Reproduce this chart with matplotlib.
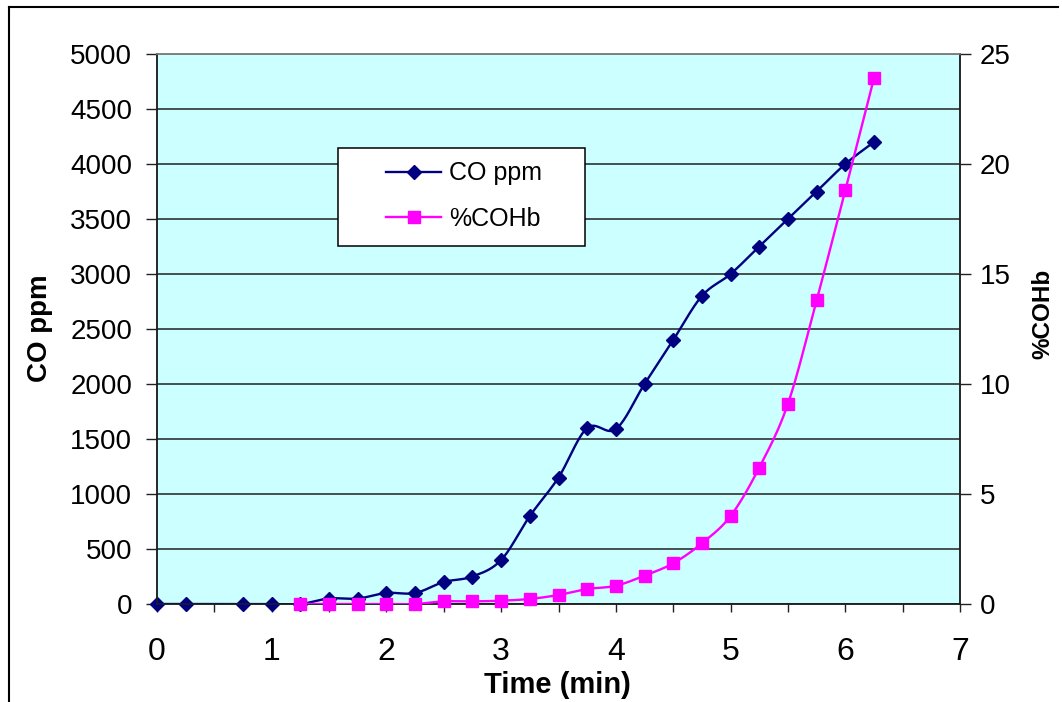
import numpy as np
import matplotlib
matplotlib.use("Agg")
import matplotlib.pyplot as plt
from matplotlib.lines import Line2D
from matplotlib.patches import Rectangle
from matplotlib.ticker import MultipleLocator

plt.rcParams['font.family'] = ['Liberation Sans', 'DejaVu Sans']

# ---- data ----
co_time = [0, 0.25, 0.75, 1.0, 1.25, 1.5, 1.75, 2.0, 2.25, 2.5, 2.75, 3.0, 3.25,
           3.5, 3.75, 4.0, 4.25, 4.5, 4.75, 5.0, 5.25, 5.5, 5.75, 6.0, 6.25]
co_ppm = [0, 0, 0, 0, 0, 50, 50, 100, 100, 200, 250, 400, 800,
          1150, 1600, 1590, 2000, 2400, 2800, 3000, 3250, 3500, 3750, 4000, 4200]

cohb_time = [1.25, 1.5, 1.75, 2.0, 2.25, 2.5, 2.75, 3.0, 3.25, 3.5, 3.75, 4.0,
             4.25, 4.5, 4.75, 5.0, 5.25, 5.5, 5.75, 6.0, 6.25]
cohb_pct = [0, 0, 0, 0, 0, 0.12, 0.12, 0.15, 0.23, 0.41, 0.68, 0.83,
            1.29, 1.85, 2.76, 4.0, 6.2, 9.1, 13.8, 18.8, 23.9]

x_ticks = [0, 1, 2, 3, 4, 5, 6, 7]
left_ticks = list(range(0, 5001, 500))
right_ticks = [0, 5, 10, 15, 20, 25]

NAVY = '#000080'
MAGENTA = '#FF00FF'
BG = '#CCFFFF'


def smooth(x, y, n=20):
    """Excel-like smoothed line (Bezier with Catmull-Rom control points)."""
    x = np.asarray(x, float)
    y = np.asarray(y, float)
    px = np.concatenate([[x[0]], x, [x[-1]]])
    py = np.concatenate([[y[0]], y, [y[-1]]])
    xs, ys = [], []
    t = np.linspace(0, 1, n)
    for i in range(1, len(px) - 2):
        p0 = np.array([px[i], py[i]])
        p3 = np.array([px[i + 1], py[i + 1]])
        p1 = p0 + (np.array([px[i + 1], py[i + 1]]) - np.array([px[i - 1], py[i - 1]])) / 6
        p2 = p3 - (np.array([px[i + 2], py[i + 2]]) - np.array([px[i], py[i]])) / 6
        b = ((1 - t) ** 3)[:, None] * p0 + (3 * (1 - t) ** 2 * t)[:, None] * p1 \
            + (3 * (1 - t) * t ** 2)[:, None] * p2 + (t ** 3)[:, None] * p3
        xs.extend(b[:, 0])
        ys.extend(b[:, 1])
    return np.array(xs), np.array(ys)


W, H = 1062, 702
fig = plt.figure(figsize=(W / 100, H / 100), dpi=100)
fig.patch.set_facecolor('white')

L, R, T, B = 157, 960, 54, 604
ax = fig.add_axes([L / W, 1 - B / H, (R - L) / W, (B - T) / H])
ax.set_facecolor(BG)
ax2 = ax.twinx()

# left axis
ax.set_xlim(0, 7)
ax.set_ylim(0, 5000)
ax.set_yticks(left_ticks)
ax.set_xticks(x_ticks)
ax.xaxis.set_minor_locator(MultipleLocator(0.5))
ax.yaxis.grid(True, color='#202020', linewidth=1.1)
ax.set_axisbelow(True)
ax.tick_params(axis='y', direction='out', length=8, width=1, pad=10,
               labelsize=20, color='#202020')
ax.tick_params(axis='x', which='both', direction='out', length=6, width=1,
               color='#202020')
ax.tick_params(axis='x', which='major', pad=18, labelsize=23)

ax2.set_ylim(0, 25)
ax2.set_yticks(right_ticks)
ax2.tick_params(axis='y', direction='out', length=8, width=1, pad=6,
                labelsize=20, color='#202020')

for a in (ax, ax2):
    a.spines['top'].set_color('#808080')
    a.spines['left'].set_color('#202020')
    a.spines['right'].set_color('#202020')
    a.spines['bottom'].set_color('#202020')
    for s in a.spines.values():
        s.set_linewidth(1.1)

# series
sx, sy = smooth(co_time, co_ppm)
ax.plot(sx, sy, color=NAVY, linewidth=1.7, zorder=3)
ax.plot(co_time, co_ppm, linestyle='none', marker='D', markersize=7.5,
        color=NAVY, zorder=4, clip_on=False)

hx, hy = smooth(cohb_time, cohb_pct)
ax2.plot(hx, hy, color=MAGENTA, linewidth=1.7, zorder=3)
ax2.plot(cohb_time, cohb_pct, linestyle='none', marker='s', markersize=8.5,
         color=MAGENTA, zorder=4, clip_on=False)

# labels
fig.text(557 / W, 1 - 685 / H, 'Time (min)', fontsize=21, fontweight='bold',
         ha='center', va='center')
fig.text(40 / W, 1 - 328 / H, 'CO ppm', rotation=90, fontsize=20,
         fontweight='bold', ha='center', va='center')
fig.text(1043 / W, 1 - 314 / H, '%COHb', rotation=90, fontsize=17.5,
         fontweight='bold', ha='center', va='center')

# legend box
x0, x1, y0, y1 = 338, 585, 148, 246
rect = Rectangle(((x0 - L) / (R - L), (B - y1) / (B - T)),
                 (x1 - x0) / (R - L), (y1 - y0) / (B - T),
                 transform=ax2.transAxes, facecolor='white', edgecolor='black',
                 linewidth=1.1, zorder=6)
ax2.add_patch(rect)
handles = [Line2D([], [], color=NAVY, marker='D', markersize=7.5, linewidth=1.7),
           Line2D([], [], color=MAGENTA, marker='s', markersize=8.5, linewidth=1.7)]
leg = ax2.legend(handles, ['CO ppm', '%COHb'], loc='center',
                 bbox_to_anchor=((464 - L) / (R - L), (B - 196) / (B - T)),
                 frameon=False, fontsize=18, handlelength=2.2,
                 handletextpad=0.3, labelspacing=0.85, borderaxespad=0)
leg.set_zorder(7)

# outer frame (partial, as in the reference)
fig.add_artist(Line2D([8.5 / W, 8.5 / W], [0, 1 - 6.5 / H], transform=fig.transFigure,
                      color='black', linewidth=1.5))
fig.add_artist(Line2D([8.5 / W, 1058 / W], [1 - 6.5 / H, 1 - 6.5 / H],
                      transform=fig.transFigure, color='black', linewidth=1.5))

fig.savefig('out.png', dpi=100)
